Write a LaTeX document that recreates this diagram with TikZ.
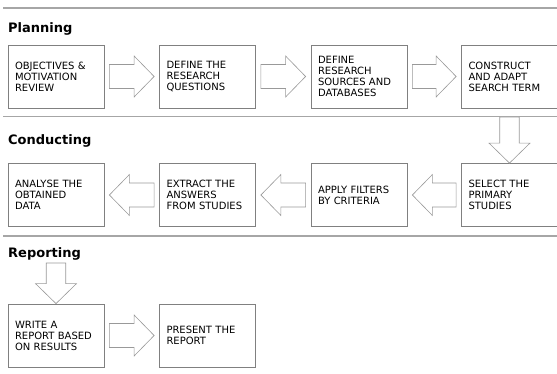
\documentclass[tikz,border=0pt]{standalone}
\usepackage{fontspec}
\setmainfont{DejaVu Sans}
\usetikzlibrary{calc}
\definecolor{boxgray}{gray}{0.5}
\definecolor{arrowgray}{gray}{0.6}
\definecolor{rulegray}{gray}{0.65}
\tikzset{
  set shaft/.store in=\shafthw,
  set gap/.store in=\arrowgap,
  set shaft=12pt, set gap=5pt,
  stepbox/.style={draw=boxgray, line width=0.8pt, minimum width=96pt, minimum height=63pt,
    text width=82pt, inner xsep=7pt, align=left, font=\fontsize{10}{11}\selectfont},
  phase/.style={anchor=base west, inner sep=0pt, font=\fontsize{13}{15}\selectfont\bfseries},
  rule/.style={draw=rulegray, line width=1.3pt},
  bigarrow/.style={draw=arrowgray, fill=white, line width=0.6pt,
    to path={let \p1=(\tikztostart), \p2=(\tikztotarget), \n1={atan2(\y2-\y1,\x2-\x1)} in
      ($(\p1)+(\n1:\arrowgap)+(\n1+90:\shafthw)$)
      -- ($(\p2)+(\n1:-\arrowgap-20pt)+(\n1+90:\shafthw)$)
      -- ($(\p2)+(\n1:-\arrowgap-20pt)+(\n1+90:20.5pt)$)
      -- ($(\p2)+(\n1:-\arrowgap)$)
      -- ($(\p2)+(\n1:-\arrowgap-20pt)+(\n1-90:20.5pt)$)
      -- ($(\p2)+(\n1:-\arrowgap-20pt)+(\n1-90:\shafthw)$)
      -- ($(\p1)+(\n1:\arrowgap)+(\n1-90:\shafthw)$) -- cycle}}
}
\begin{document}
\begin{tikzpicture}[x=1pt, y=-1pt]
  \useasboundingbox (0,0) rectangle (557,374);
  % phase rules and titles
  \draw[rule] (3,8) -- (557,8);
  \draw[rule] (3,116.5) -- (557,116.5);
  \draw[rule] (3,236) -- (557,236);
  \node[phase] (planning) at (8,33) {Planning};
  \node[phase] (conducting) at (8,145) {Conducting};
  \node[phase] (reporting) at (8,257.5) {Reporting};
  % planning
  \node[stepbox] (objectives) at (56,76.5) {OBJECTIVES \&\\MOTIVATION\\REVIEW};
  \node[stepbox] (questions) at (207.5,76.5) {DEFINE THE\\RESEARCH\\QUESTIONS};
  \node[stepbox] (sources) at (359,76.5) {DEFINE\\RESEARCH\\SOURCES AND\\DATABASES};
  \node[stepbox] (searchterm) at (509.5,76.5) {CONSTRUCT\\AND ADAPT\\SEARCH TERM};
  % conducting
  \node[stepbox] (select) at (509.5,195) {SELECT THE\\PRIMARY\\STUDIES};
  \node[stepbox] (filters) at (359,195) {APPLY FILTERS\\BY CRITERIA};
  \node[stepbox] (extract) at (207.5,195) {EXTRACT THE\\ANSWERS\\FROM STUDIES};
  \node[stepbox] (analyse) at (56,195) {ANALYSE THE\\OBTAINED\\DATA};
  % reporting
  \node[stepbox] (report) at (56,335.5) {WRITE A\\REPORT BASED\\ON RESULTS};
  \node[stepbox] (present) at (207.5,335.5) {PRESENT THE\\REPORT};
  \coordinate (turna) at (509.5,117);
  \coordinate (turnb) at (56,263);
  % arrows
  \draw[bigarrow] (objectives.east) to (questions.west);
  \draw[bigarrow] (questions.east) to (sources.west);
  \draw[bigarrow] (sources.east) to (searchterm.west);
  \draw[bigarrow, set shaft=9.75pt, set gap=0pt] (turna) to (select.north);
  \draw[bigarrow] (select.west) to (filters.east);
  \draw[bigarrow] (filters.west) to (extract.east);
  \draw[bigarrow] (extract.west) to (analyse.east);
  \draw[bigarrow, set shaft=9.75pt, set gap=0pt] (turnb) to (report.north);
  \draw[bigarrow] (report.east) to (present.west);
\end{tikzpicture}
\end{document}
